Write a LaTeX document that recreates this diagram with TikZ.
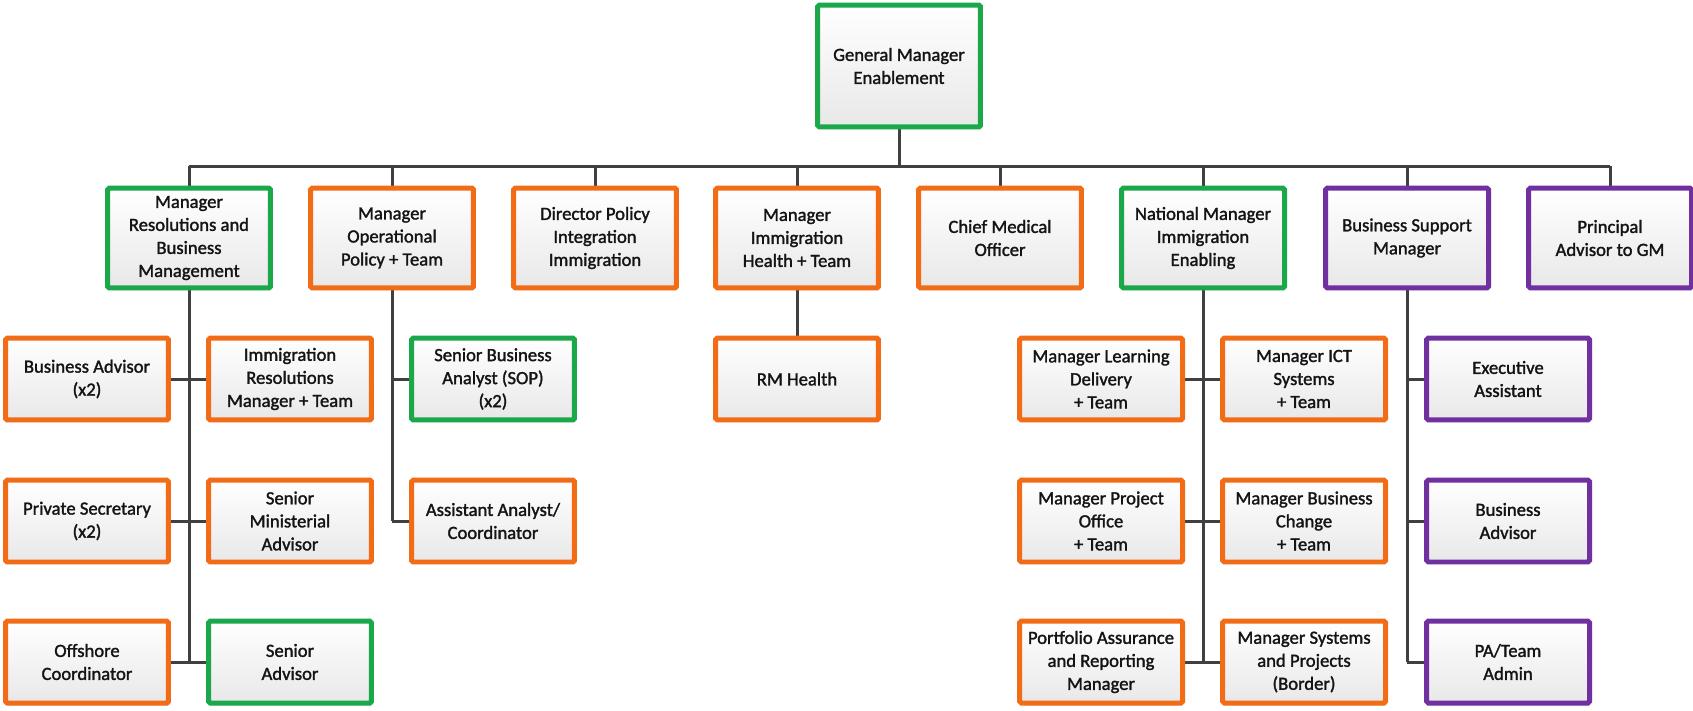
\documentclass[tikz,border=0pt]{standalone}
\usepackage{fontspec}
\setmainfont{Carlito}
\newfontfamily\boxfont{Carlito}[FakeBold=1.6]
\usetikzlibrary{backgrounds,shadows}
\definecolor{grn}{RGB}{26,168,75}
\definecolor{org}{RGB}{242,108,24}
\definecolor{prp}{RGB}{112,48,160}
\definecolor{lnk}{RGB}{64,64,64}

\begin{document}
\begin{tikzpicture}[x=0.02cm,y=-0.02cm,
  box/.style={draw,line width=0.1cm,rounded corners=1pt,align=center,
    minimum width=3.26cm,minimum height=1.64cm,inner sep=1pt,
    top color=white,bottom color=black!9,text=black!92,
    font=\boxfont\fontsize{10.6}{13.1}\selectfont,
    drop shadow={shadow xshift=0.05cm,shadow yshift=-0.05cm,opacity=0.15}},
  head/.style={box,minimum height=2.0cm},
  gbox/.style={draw=grn},
  obox/.style={draw=org},
  pbox/.style={draw=prp},
  link/.style={lnk,line width=0.06cm}]
\useasboundingbox (0,0) rectangle (1693,710);
\node[box,gbox,minimum height=2.44cm] (gm) at (899,66) {General Manager\\Enablement};
\node[head,gbox] (mrbm) at (189,238) {Manager\\Resolutions and\\Business\\Management};
\node[head,obox] (mop) at (392,238) {Manager\\Operational\\Policy + Team};
\node[head,obox] (dpi) at (595,238) {Director Policy\\Integration\\Immigration};
\node[head,obox] (mih) at (797,238) {Manager\\Immigration\\Health + Team};
\node[head,obox] (cmo) at (1000,238) {Chief Medical\\Officer};
\node[head,gbox] (nmie) at (1203,238) {National Manager\\Immigration\\Enabling};
\node[head,pbox] (bsm) at (1407,238) {Business Support\\Manager};
\node[head,pbox] (pagm) at (1610,238) {Principal\\Advisor to GM};
\node[box,obox] (bizadv) at (87,379) {Business Advisor\\(x2)};
\node[box,obox] (irm) at (290,379) {Immigration\\Resolutions\\Manager + Team};
\node[box,gbox] (sba) at (493,379) {Senior Business\\Analyst (SOP)\\(x2)};
\node[box,obox] (rmh) at (797,379) {RM Health};
\node[box,obox] (mld) at (1101,379) {Manager Learning\\Delivery\\+ Team};
\node[box,obox] (mict) at (1304,379) {Manager ICT\\Systems\\+ Team};
\node[box,pbox] (ea) at (1508,379) {Executive\\Assistant};
\node[box,obox] (privsec) at (87,521) {Private Secretary\\(x2)};
\node[box,obox] (sma) at (290,521) {Senior\\Ministerial\\Advisor};
\node[box,obox] (aac) at (493,521) {Assistant Analyst/\\Coordinator};
\node[box,obox] (mpo) at (1101,521) {Manager Project\\Office\\+ Team};
\node[box,obox] (mbc) at (1304,521) {Manager Business\\Change\\+ Team};
\node[box,pbox] (badv) at (1508,521) {Business\\Advisor};
\node[box,obox] (offco) at (87,662) {Offshore\\Coordinator};
\node[box,gbox] (sadv) at (290,662) {Senior\\Advisor};
\node[box,obox] (para) at (1101,662) {Portfolio Assurance\\and Reporting\\Manager};
\node[box,obox] (msp) at (1304,662) {Manager Systems\\and Projects\\(Border)};
\node[box,pbox] (pata) at (1508,662) {PA/Team\\Admin};
\coordinate (bl) at (189,166);
\coordinate (br) at (1610,166);
\begin{scope}[on background layer]
\draw[link] (bl) -- (br);
\draw[link] (gm) -- (gm |- bl);
\foreach \n in {mrbm,mop,dpi,mih,cmo,nmie,bsm,pagm}
  \draw[link] (\n) -- (\n |- bl);
\draw[link] (mrbm) -- (mrbm |- offco);
\path[link] (bizadv) edge (irm) (privsec) edge (sma) (offco) edge (sadv);
\draw[link] (mop) -- (mop |- aac);
\path[link] (mop |- sba) edge (sba) (mop |- aac) edge (aac);
\draw[link] (mih) -- (rmh);
\draw[link] (nmie) -- (nmie |- para);
\path[link] (mld) edge (mict) (mpo) edge (mbc) (para) edge (msp);
\draw[link] (bsm) -- (bsm |- pata);
\path[link] (bsm |- ea) edge (ea) (bsm |- badv) edge (badv) (bsm |- pata) edge (pata);
\end{scope}
\end{tikzpicture}
\end{document}
